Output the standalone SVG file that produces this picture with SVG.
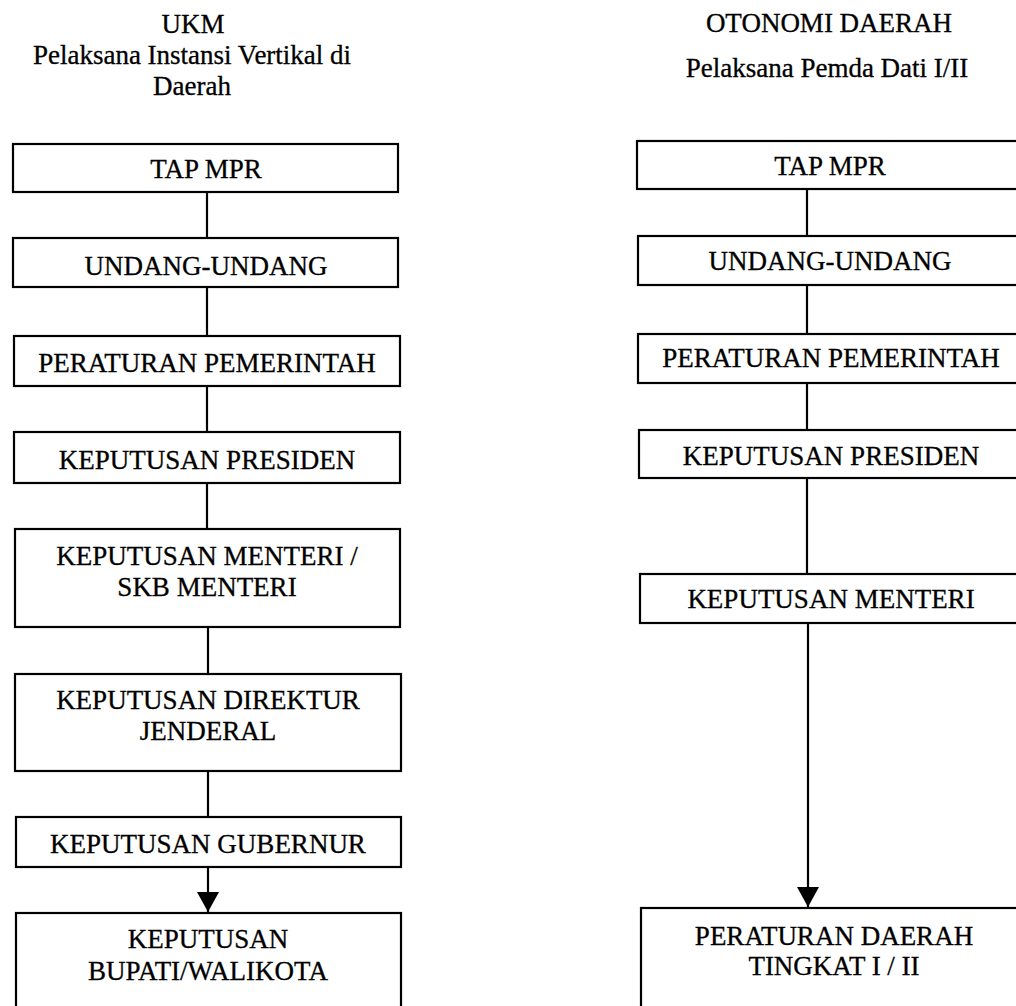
<svg xmlns="http://www.w3.org/2000/svg" width="1016" height="1006" viewBox="0 0 1016 1006">
<style>
  .bg { fill: #ffffff; }
  .box { fill: none; stroke: #000; stroke-width: 2.2; }
  .t { font-family: "Liberation Serif", "Times New Roman", serif; font-size: 27px; fill: #000; stroke: #000; stroke-width: 0.3; text-anchor: middle; }
  .conn { stroke: #000; stroke-width: 2.2; fill: none; }
</style>
<defs>
  <marker id="arrL" viewBox="0 0 20 22" refX="20" refY="11" markerWidth="20" markerHeight="22" markerUnits="userSpaceOnUse" orient="auto">
    <path d="M0,0 L20,11 L0,22 Z" fill="#000"/>
  </marker>
</defs>
<rect class="bg" x="0" y="0" width="1016" height="1006"/>

<g id="titles">
  <text class="t" x="193" y="33">UKM</text>
  <text class="t" x="192" y="64">Pelaksana Instansi Vertikal di</text>
  <text class="t" x="192" y="95">Daerah</text>
  <text class="t" x="829" y="32">OTONOMI DAERAH</text>
  <text class="t" x="827" y="77">Pelaksana Pemda Dati I/II</text>
</g>

<g id="connectors">
  <line class="conn" x1="207" y1="192" x2="207" y2="238"/>
  <line class="conn" x1="207" y1="287" x2="207" y2="336"/>
  <line class="conn" x1="207" y1="386" x2="207" y2="432"/>
  <line class="conn" x1="207" y1="483" x2="207" y2="529"/>
  <line class="conn" x1="208" y1="627" x2="208" y2="674"/>
  <line class="conn" x1="208" y1="771" x2="208" y2="817"/>
  <line class="conn" x1="208" y1="867" x2="208" y2="912" marker-end="url(#arrL)"/>
  <line class="conn" x1="807" y1="189" x2="807" y2="236"/>
  <line class="conn" x1="807" y1="285" x2="807" y2="334"/>
  <line class="conn" x1="807" y1="383" x2="807" y2="430"/>
  <line class="conn" x1="807" y1="478" x2="807" y2="574"/>
  <line class="conn" x1="808" y1="623" x2="808" y2="907" marker-end="url(#arrL)"/>
</g>

<g id="l-tap">
  <rect class="box" x="13" y="144" width="385" height="48"/>
  <text class="t" x="206" y="178">TAP MPR</text>
</g>
<g id="l-uu">
  <rect class="box" x="13" y="238" width="385" height="49"/>
  <text class="t" x="206" y="275">UNDANG-UNDANG</text>
</g>
<g id="l-pp">
  <rect class="box" x="14" y="336" width="386" height="50"/>
  <text class="t" x="207" y="372">PERATURAN PEMERINTAH</text>
</g>
<g id="l-keppres">
  <rect class="box" x="14" y="432" width="386" height="51"/>
  <text class="t" x="207" y="469">KEPUTUSAN PRESIDEN</text>
</g>
<g id="l-kepmen">
  <rect class="box" x="15" y="529" width="385" height="98"/>
  <text class="t" x="207" y="565">KEPUTUSAN MENTERI /</text>
  <text class="t" x="207" y="596">SKB MENTERI</text>
</g>
<g id="l-dirjen">
  <rect class="box" x="15" y="674" width="386" height="97"/>
  <text class="t" x="208" y="709">KEPUTUSAN DIREKTUR</text>
  <text class="t" x="208" y="740">JENDERAL</text>
</g>
<g id="l-gub">
  <rect class="box" x="16" y="817" width="385" height="50"/>
  <text class="t" x="208" y="853">KEPUTUSAN GUBERNUR</text>
</g>
<g id="l-bupati">
  <rect class="box" x="16" y="913" width="385" height="110"/>
  <text class="t" x="208" y="948">KEPUTUSAN</text>
  <text class="t" x="208" y="980">BUPATI/WALIKOTA</text>
</g>

<g id="r-tap">
  <rect class="box" x="637" y="141" width="400" height="48"/>
  <text class="t" x="830" y="175">TAP MPR</text>
</g>
<g id="r-uu">
  <rect class="box" x="638" y="236" width="400" height="49"/>
  <text class="t" x="830" y="270">UNDANG-UNDANG</text>
</g>
<g id="r-pp">
  <rect class="box" x="638" y="334" width="400" height="49"/>
  <text class="t" x="831" y="367">PERATURAN PEMERINTAH</text>
</g>
<g id="r-keppres">
  <rect class="box" x="639" y="430" width="400" height="48"/>
  <text class="t" x="831" y="465">KEPUTUSAN PRESIDEN</text>
</g>
<g id="r-kepmen">
  <rect class="box" x="640" y="574" width="400" height="49"/>
  <text class="t" x="831" y="608">KEPUTUSAN MENTERI</text>
</g>
<g id="r-perda">
  <rect class="box" x="641" y="908" width="400" height="115"/>
  <text class="t" x="834" y="945">PERATURAN DAERAH</text>
  <text class="t" x="834" y="975">TINGKAT I / II</text>
</g>
</svg>
